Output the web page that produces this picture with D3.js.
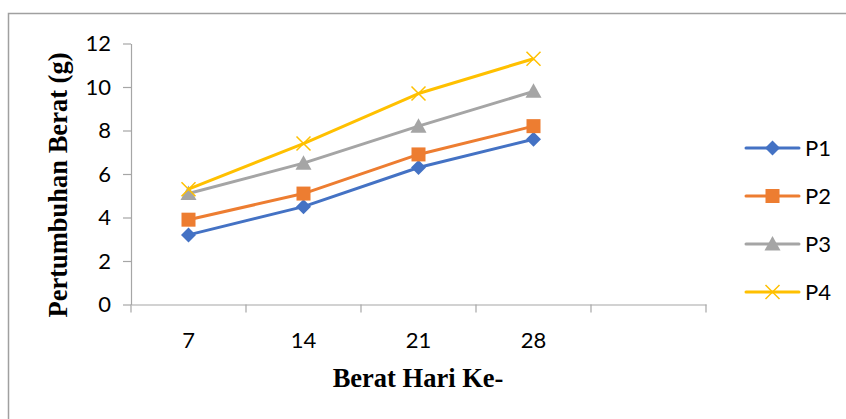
<!DOCTYPE html>
<html>
<head>
<meta charset="utf-8">
<script src="https://cdn.jsdelivr.net/npm/d3@7"></script>
<style>
  body { margin: 0; background: #fff; }
  svg { display: block; }
</style>
</head>
<body>
<svg id="chart" width="846" height="419"></svg>
<script>
"use strict";

var days = ["7", "14", "21", "28", ""];
var seriesNames = ["P1", "P2", "P3", "P4"];
var p1 = [3.2, 4.5, 6.3, 7.6];
var p2 = [3.9, 5.1, 6.9, 8.2];
var p3 = [5.1, 6.5, 8.2, 9.8];
var p4 = [5.3, 7.4, 9.7, 11.3];
var yTicks = [0, 2, 4, 6, 8, 10, 12];

var colors = ["#4472C4", "#ED7D31", "#A5A5A5", "#FFC000"];
var shapes = ["diamond", "square", "triangle", "cross"];
var allSeries = [p1, p2, p3, p4];

var svg = d3.select("#chart");

// outer frame (right and bottom edges fall outside the picture)
svg.append("rect")
  .attr("x", 8.5).attr("y", 13.5)
  .attr("width", 900).attr("height", 500)
  .attr("fill", "none")
  .attr("stroke", "#a0a0a0")
  .attr("stroke-width", 1.5);

var plotLeft = 131, plotRight = 706, plotTop = 43.5, plotBottom = 304.5;

var x = d3.scaleBand().domain(days).range([plotLeft, plotRight]);
var y = d3.scaleLinear().domain([0, 12]).range([plotBottom, plotTop]);

var xAxis = svg.append("g")
  .attr("transform", "translate(0," + plotBottom + ")")
  .call(d3.axisBottom(x).tickSize(0).tickFormat(function (d) { return d; }));
xAxis.select(".domain").attr("stroke", "#a6a6a6").attr("stroke-width", 1.2);
xAxis.selectAll("text")
  .attr("dy", 0).attr("y", 43)
  .attr("font-family", "Lato, 'Open Sans', sans-serif")
  .attr("font-size", 22).attr("fill", "#000");
// tick marks at category boundaries
svg.selectAll(".xtick")
  .data(days.map(function (d) { return x(d); }).concat([plotRight]))
  .enter().append("line")
  .attr("class", "xtick")
  .attr("x1", function (d) { return d; }).attr("x2", function (d) { return d; })
  .attr("y1", plotBottom).attr("y2", plotBottom + 8)
  .attr("stroke", "#a6a6a6").attr("stroke-width", 1.2);

var yAxis = svg.append("g")
  .attr("transform", "translate(" + plotLeft + ",0)")
  .call(d3.axisLeft(y).tickValues(yTicks).tickSize(8).tickSizeOuter(0).tickPadding(12));
yAxis.select(".domain").attr("stroke", "#a6a6a6").attr("stroke-width", 1.2);
yAxis.selectAll(".tick line").attr("stroke", "#a6a6a6").attr("stroke-width", 1.2);
yAxis.selectAll("text")
  .attr("font-family", "Lato, 'Open Sans', sans-serif")
  .attr("font-size", 22).attr("fill", "#000");

svg.append("text")
  .attr("x", 418).attr("y", 387)
  .attr("text-anchor", "middle")
  .attr("font-family", "'Liberation Serif', 'Times New Roman', serif")
  .attr("font-weight", "bold").attr("font-size", 26.5)
  .text("Berat Hari Ke-");

svg.append("text")
  .attr("transform", "translate(67,185) rotate(-90)")
  .attr("text-anchor", "middle")
  .attr("font-family", "'Liberation Serif', 'Times New Roman', serif")
  .attr("font-weight", "bold").attr("font-size", 26.5)
  .text("Pertumbuhan Berat (g)");

function drawMarker(g, shape, color, cx, cy) {
  if (shape === "diamond") {
    g.append("path")
      .attr("d", "M" + cx + "," + (cy - 7.5) + "L" + (cx + 7.5) + "," + cy + "L" + cx + "," + (cy + 7.5) + "L" + (cx - 7.5) + "," + cy + "Z")
      .attr("fill", color);
  } else if (shape === "square") {
    g.append("rect")
      .attr("x", cx - 7).attr("y", cy - 7)
      .attr("width", 14).attr("height", 14)
      .attr("fill", color);
  } else if (shape === "triangle") {
    g.append("path")
      .attr("d", "M" + cx + "," + (cy - 8) + "L" + (cx + 8) + "," + (cy + 6.5) + "L" + (cx - 8) + "," + (cy + 6.5) + "Z")
      .attr("fill", color);
  } else {
    g.append("path")
      .attr("d", "M" + (cx - 7) + "," + (cy - 7) + "L" + (cx + 7) + "," + (cy + 7) + "M" + (cx + 7) + "," + (cy - 7) + "L" + (cx - 7) + "," + (cy + 7))
      .attr("stroke", color).attr("stroke-width", 1.5).attr("fill", "none");
  }
}

var line = d3.line()
  .x(function (d, i) { return x(days[i]) + x.bandwidth() / 2; })
  .y(function (d) { return y(d); });

allSeries.forEach(function (vals, s) {
  var g = svg.append("g");
  g.append("path")
    .attr("d", line(vals))
    .attr("fill", "none")
    .attr("stroke", colors[s])
    .attr("stroke-width", 3)
    .attr("stroke-linejoin", "round");
  vals.forEach(function (v, i) {
    drawMarker(g, shapes[s], colors[s], x(days[i]) + x.bandwidth() / 2, y(v));
  });
});

// legend
var legendY = d3.scalePoint().domain(seriesNames).range([148, 292]);
seriesNames.forEach(function (name, s) {
  var g = svg.append("g");
  var ly = legendY(name);
  g.append("line")
    .attr("x1", 746).attr("x2", 799)
    .attr("y1", ly).attr("y2", ly)
    .attr("stroke", colors[s]).attr("stroke-width", 3)
    .attr("stroke-linecap", "round");
  drawMarker(g, shapes[s], colors[s], 772.5, ly);
  g.append("text")
    .attr("x", 805).attr("y", ly + 8)
    .attr("font-family", "Lato, 'Open Sans', sans-serif")
    .attr("font-size", 22)
    .text(name);
});
</script>
</body>
</html>
